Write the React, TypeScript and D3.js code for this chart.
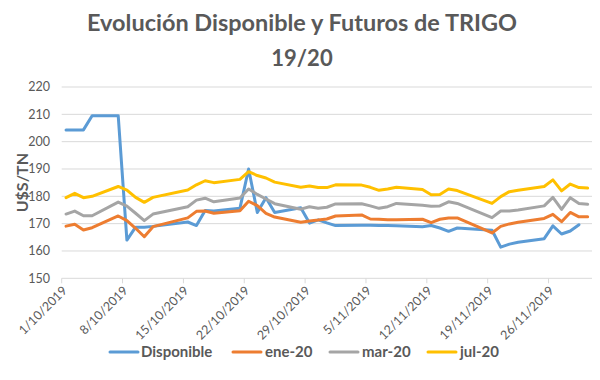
import React from "react";
import * as d3 from "d3";

const W = 600;
const H = 380;

// Trading dates (Disponible has no value on the last futures date)
const dates: string[] = [
  "2019-10-01", "2019-10-02", "2019-10-03", "2019-10-04", "2019-10-07", "2019-10-08", "2019-10-09", "2019-10-10", "2019-10-11",
  "2019-10-15", "2019-10-16", "2019-10-17", "2019-10-18", "2019-10-21", "2019-10-22", "2019-10-23", "2019-10-24", "2019-10-25",
  "2019-10-28", "2019-10-29", "2019-10-30", "2019-10-31", "2019-11-01", "2019-11-04", "2019-11-05", "2019-11-06", "2019-11-07",
  "2019-11-08", "2019-11-11", "2019-11-12", "2019-11-13", "2019-11-14", "2019-11-15", "2019-11-19", "2019-11-20", "2019-11-21",
  "2019-11-22", "2019-11-25", "2019-11-26", "2019-11-27", "2019-11-28", "2019-11-29", "2019-11-30",
];

const disponible: (number | null)[] = [
  204.3, 204.3, 204.3, 209.5, 209.5, 164.0, 168.7, 168.7, 169.0,
  170.6, 169.3, 174.8, 174.6, 175.6, 190.0, 174.1, 179.5, 174.1,
  175.8, 170.2, 171.4, 170.3, 169.3, 169.4, 169.4, 169.3, 169.3,
  169.2, 168.9, 169.3, 168.4, 167.2, 168.4, 167.6, 161.4, 162.5,
  163.2, 164.5, 169.2, 166.2, 167.3, 169.6, null,
];

const ene20: number[] = [
  169.1, 169.8, 167.7, 168.5, 172.8, 171.1, 168.3, 165.2, 168.9,
  172.1, 174.5, 174.6, 173.8, 174.7, 178.2, 176.6, 173.8, 172.4,
  170.5, 171.0, 171.3, 171.7, 172.8, 173.2, 171.7, 171.6, 171.4,
  171.4, 171.6, 170.4, 171.6, 172.1, 172.1, 166.6, 169.0, 169.9,
  170.5, 171.9, 173.4, 170.7, 174.1, 172.5, 172.5,
];

const mar20: number[] = [
  173.5, 174.6, 172.9, 172.9, 177.9, 176.4, 173.8, 171.1, 173.5,
  176.2, 178.6, 179.3, 178.0, 179.4, 182.7, 180.7, 179.0, 177.3,
  175.3, 176.2, 175.6, 176.0, 177.2, 177.3, 176.5, 175.6, 176.2,
  177.4, 176.7, 176.4, 176.5, 178.0, 177.4, 172.2, 174.6, 174.6,
  175.0, 176.5, 179.6, 175.2, 179.5, 177.4, 177.1,
];

const jul20: number[] = [
  179.5, 181.1, 179.5, 180.0, 183.6, 182.3, 179.6, 177.8, 179.6,
  182.3, 184.2, 185.7, 185.0, 186.2, 189.0, 187.6, 186.7, 185.2,
  183.3, 183.8, 183.2, 183.2, 184.2, 184.1, 183.3, 182.2, 182.7,
  183.3, 182.5, 180.6, 180.7, 182.7, 182.1, 177.4, 179.9, 181.7,
  182.2, 183.6, 186.0, 182.0, 184.5, 183.2, 183.0,
];

const seriesNames = ["Disponible", "ene-20", "mar-20", "jul-20"];
const seriesColors = ["#5B9BD5", "#ED7D31", "#A5A5A5", "#FFC000"];
const yTicks = [150, 160, 170, 180, 190, 200, 210, 220];
const xTickDates = ["2019-10-01", "2019-10-08", "2019-10-15", "2019-10-22", "2019-10-29", "2019-11-05", "2019-11-12", "2019-11-19", "2019-11-26"];

const title1 = "Evolución Disponible y Futuros de TRIGO";
const title2 = "19/20";
const yTitle = "U$S/TN";

const FONT = "Lato, 'Open Sans', sans-serif";
const TXT = "#595959";

const parse = (s: string) => new Date(s + "T00:00:00Z");
const DAY = 86400000;

export default function App() {
  const left = 61.7;
  const right = 592;
  const top = 87;
  const bottom = 278.3;

  const x = d3.scaleUtc().domain([parse("2019-10-01"), parse("2019-12-01")]).range([left, right]);
  const y = d3.scaleLinear().domain([150, 220]).range([bottom, top]);

  const allSeries = [disponible, ene20, mar20, jul20];
  const line = d3
    .line<{ d: Date; v: number | null }>()
    .defined((p) => p.v !== null)
    .x((p) => x(new Date(p.d.getTime() + DAY / 2)))
    .y((p) => y(p.v as number));

  const legendItems = [
    { lx: 110, tx: 141 },
    { lx: 233, tx: 265 },
    { lx: 330, tx: 362 },
    { lx: 428, tx: 460 },
  ];

  return (
    <svg width={W} height={H} style={{ display: "block", position: "absolute", left: 0, top: 0, background: "#fff" }}>
      <rect x={0} y={0} width={W} height={H} fill="#fff" />
      <text x={302} y={31} textAnchor="middle" fontFamily={FONT} fontWeight="bold" fontSize={22} fill={TXT} textLength={430} lengthAdjust="spacingAndGlyphs">
        {title1}
      </text>
      <text x={302} y={66} textAnchor="middle" fontFamily={FONT} fontWeight="bold" fontSize={22} fill={TXT}>
        {title2}
      </text>

      {yTicks.map((t) => (
        <g key={t}>
          <line x1={left} x2={right} y1={y(t)} y2={y(t)} stroke="#D9D9D9" strokeWidth={1} />
          <text x={50} y={y(t)} dy="0.35em" textAnchor="end" fontFamily={FONT} fontSize={12.5} fill={TXT}>
            {t}
          </text>
        </g>
      ))}

      {xTickDates.map((s) => {
        const xx = x(parse(s));
        return (
          <g key={s}>
            <line x1={xx} x2={xx} y1={bottom} y2={bottom + 5} stroke="#D9D9D9" strokeWidth={1} />
            <text
              transform={`translate(${xx + 3},${bottom + 10}) rotate(-45)`}
              textAnchor="end"
              dy="0.35em"
              fontFamily={FONT}
              fontSize={12.5}
              fill={TXT}
            >
              {`${+s.slice(8, 10)}/${+s.slice(5, 7)}/${s.slice(0, 4)}`}
            </text>
          </g>
        );
      })}

      <text transform={`translate(22,${(top + bottom) / 2}) rotate(-90)`} textAnchor="middle" dy="0.35em" fontFamily={FONT} fontWeight="bold" fontSize={16} fill={TXT}>
        {yTitle}
      </text>

      {allSeries.map((vals, i) => (
        <path
          key={i}
          d={line(dates.map((s, j) => ({ d: parse(s), v: vals[j] ?? null }))) || ""}
          fill="none"
          stroke={seriesColors[i]}
          strokeWidth={3}
          strokeLinejoin="round"
          strokeLinecap="round"
        />
      ))}

      {seriesNames.map((n, i) => (
        <g key={n}>
          <line x1={legendItems[i].lx} x2={legendItems[i].lx + 28} y1={352} y2={352} stroke={seriesColors[i]} strokeWidth={3} strokeLinecap="round" />
          <text x={legendItems[i].tx} y={352} dy="0.35em" fontFamily={FONT} fontWeight="bold" fontSize={15} fill={TXT}>
            {n}
          </text>
        </g>
      ))}
    </svg>
  );
}
